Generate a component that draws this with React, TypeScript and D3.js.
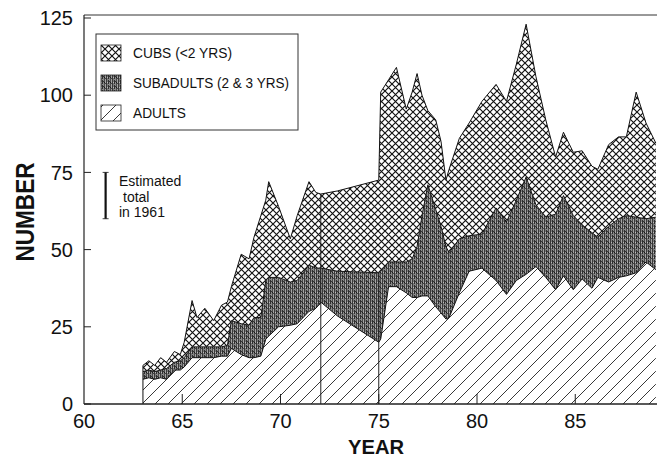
import React from "react";
import * as d3 from "d3";

// ---- data ----
const years = [
  63.0, 63.3, 63.6, 63.9, 64.2, 64.6, 64.9, 65.1, 65.5, 65.75, 66.15, 66.6, 67.0, 67.3, 67.5,
  68.0, 68.4, 68.65, 69.0, 69.25, 69.4, 69.9, 70.5, 70.85, 71.45, 71.8, 72.05, 72.9, 75.0, 75.1,
  75.5, 75.9, 76.4, 76.7, 76.95, 77.2, 77.5, 77.9, 78.17, 78.42, 78.58, 79.1, 79.6, 80.25, 80.97,
  81.5, 82.0, 82.5, 83.0, 83.5, 84.0, 84.4, 84.9, 85.35, 85.85, 86.15, 86.7, 87.2, 87.6, 88.1,
  88.6, 89.1,
];
const adults = [
  8, 8.5, 8, 8.5, 8, 11, 11, 12, 15, 15, 15, 15, 15.5, 15.5, 18,
  16, 15, 15, 15.5, 21, 22, 25, 25.5, 26, 30, 31, 33, 28.5, 20, 21,
  38, 38, 36, 34.5, 34.5, 35, 35, 31.5, 29.5, 27.5, 28, 36, 43, 44, 40,
  35.5, 40, 42, 44.5, 41, 37, 41.5, 37, 40.5, 37.5, 41, 39.5, 41, 41.5, 42.5,
  46, 43.5,
];
const subadults = [
  2.5, 2.5, 2.5, 2.5, 3.5, 2.5, 3, 3, 3.5, 3.5, 3.5, 3.5, 3, 3.5, 9,
  10, 10.5, 13, 12.5, 19, 19, 16, 14, 14, 15, 13, 11, 14.5, 22.5, 22,
  8, 8, 10, 12.5, 16.5, 26, 36, 31.5, 28, 23.5, 21, 17.5, 11.5, 11, 23.5,
  23.5, 26, 31.5, 20, 19.5, 24.5, 26, 24, 17.5, 18, 13, 18, 19, 19.5, 18,
  14, 17,
];
const cubs = [
  2, 3, 2, 4, 2, 3.5, 2, 5, 15, 9.5, 12.5, 8.5, 13.5, 14, 11,
  22.5, 21.5, 26, 33, 26, 31, 23, 14, 21, 27, 24.5, 24, 26, 30, 58,
  59, 63, 49.5, 54, 56, 39, 24, 29, 27.5, 21.5, 27, 32.5, 36.5, 43, 40,
  39, 44, 49.5, 41.5, 31.5, 18.5, 20.5, 20.5, 24, 21.5, 22, 26.5, 26.5, 25.5, 40.5,
  31, 24,
];
const xTicks = [60, 65, 70, 75, 80, 85];
const yTicks = [0, 25, 50, 75, 100, 125];
const markerYears = [72.05, 75.0];
const estimateYear = 61.1;
const estimateRange = [60, 75];
const legendLabels = ["CUBS (<2 YRS)", "SUBADULTS (2 & 3 YRS)", "ADULTS"];
const annotationLines = ["Estimated", "total", "in 1961"];

const FONT = "'Liberation Sans', Arial, Helvetica, sans-serif";

// grey levels for the stipple screen of the subadult band (texture only)
const stippleCols = ["#2e2e2e", "#8a8a8a", "#4a4a4a", "#a4a4a4", "#383838", "#7a7a7a"];

export default function App() {
  const W = 657;
  const H = 458;
  const x = d3.scaleLinear().domain([60, 90]).range([84, 84 + 30 * 19.65]);
  const y = d3.scaleLinear().domain([0, 125]).range([404, 18]);

  const table = years.map((yr, i) => ({ year: yr, adults: adults[i], subadults: subadults[i], cubs: cubs[i] }));
  const stack = d3.stack<any>().keys(["adults", "subadults", "cubs"]);
  const series = stack(table);

  const area = d3
    .area<any>()
    .x((d) => x(d.data.year))
    .y0((d) => y(d[0]))
    .y1((d) => y(d[1]));
  const line = d3
    .line<any>()
    .x((d) => x(d.data.year))
    .y((d) => y(d[1]));

  const fills = ["url(#adultHatch)", "url(#subStipple)", "url(#cubCross)"];
  const left = x(60);
  const x0 = x(years[0]);

  const legendFills = ["url(#cubCross)", "url(#subStipple)", "url(#adultHatch)"];
  const legendTextLen = [99, 156, 53];

  return (
    <svg
      width={W}
      height={H}
      style={{ position: "absolute", left: 0, top: 0, background: "#fff" }}
      fontFamily={FONT}
    >
      <defs>
        <pattern id="cubCross" patternUnits="userSpaceOnUse" width={7} height={7}>
          <rect width={7} height={7} fill="#fff" />
          <path d="M-1,-1 L8,8 M8,-1 L-1,8" stroke="#111" strokeWidth={1.15} />
        </pattern>
        <pattern id="adultHatch" patternUnits="userSpaceOnUse" width={13} height={13}>
          <rect width={13} height={13} fill="#fff" />
          <path d="M0,13 L13,0 M-2,2 L2,-2 M11,15 L15,11" stroke="#222" strokeWidth={0.9} />
        </pattern>
        <pattern id="subStipple" patternUnits="userSpaceOnUse" width={6} height={5}>
          <rect width={6} height={5} fill="#666" />
          {stippleCols.map((c, i) => (
            <rect key={i} x={i} y={0} width={1} height={5} fill={c} />
          ))}
          <rect x={1} y={1} width={1} height={1} fill="#333" />
          <rect x={3} y={3} width={1} height={1} fill="#444" />
          <rect x={5} y={2} width={1} height={1} fill="#bbb" />
          <rect x={0} y={4} width={1} height={1} fill="#888" />
          <rect x={2} y={2} width={1} height={1} fill="#1a1a1a" />
        </pattern>
      </defs>

      {/* stacked areas */}
      {series.map((s, i) => (
        <path key={s.key} d={area(s) || ""} fill={fills[i]} stroke="none" />
      ))}
      {series.map((s) => (
        <path key={"l" + s.key} d={line(s) || ""} fill="none" stroke="#111" strokeWidth={1} />
      ))}
      {/* left edge of the data */}
      <line x1={x0} x2={x0} y1={y(0)} y2={y(series[2][0][1])} stroke="#111" strokeWidth={1} />

      {/* vertical marker lines */}
      {markerYears.map((my, k) => {
        const idx = years.indexOf(my);
        const top = k === 0 ? series[2][idx][1] : series[1][idx][1];
        return (
          <line key={"m" + k} x1={x(my)} x2={x(my)} y1={y(0)} y2={y(top)} stroke="#222" strokeWidth={1} />
        );
      })}

      {/* frame / axes */}
      <line x1={left} x2={W} y1={15} y2={15} stroke="#333" strokeWidth={1} />
      <line x1={left} x2={left} y1={15} y2={y(0)} stroke="#222" strokeWidth={1.2} />
      <line x1={left} x2={W} y1={y(0)} y2={y(0)} stroke="#222" strokeWidth={1.4} />

      {yTicks.map((t) => (
        <g key={"yt" + t}>
          <line x1={left} x2={left + 7} y1={y(t)} y2={y(t)} stroke="#222" strokeWidth={1} />
          <text x={73} y={y(t)} dy="0.36em" textAnchor="end" fontSize={20} fill="#111">
            {t}
          </text>
        </g>
      ))}
      {xTicks.map((t) => (
        <g key={"xt" + t}>
          {t > 60 && <line x1={x(t)} x2={x(t)} y1={y(0)} y2={y(0) - 10} stroke="#222" strokeWidth={1} />}
          <text x={x(t)} y={427.5} textAnchor="middle" fontSize={20} fill="#111">
            {t}
          </text>
        </g>
      ))}

      {/* axis titles */}
      <text x={376} y={453.5} textAnchor="middle" fontSize={21} fontWeight="bold" textLength={56} lengthAdjust="spacingAndGlyphs" fill="#111">
        YEAR
      </text>
      <text
        transform={`translate(34,212) rotate(-90)`}
        textAnchor="middle"
        fontSize={25}
        fontWeight="bold"
        textLength={99}
        lengthAdjust="spacingAndGlyphs"
        fill="#111"
      >
        NUMBER
      </text>

      {/* legend */}
      <rect x={96} y={34} width={202} height={96} fill="#fff" stroke="#333" strokeWidth={1} />
      {legendLabels.map((lab, i) => (
        <g key={"lg" + i}>
          <rect x={101} y={45 + i * 30} width={20} height={16} fill={legendFills[i]} stroke="#222" strokeWidth={0.8} />
          <text x={133} y={58 + i * 30} fontSize={14.5} fill="#111" textLength={legendTextLen[i]} lengthAdjust="spacingAndGlyphs">
            {lab}
          </text>
        </g>
      ))}

      {/* estimate annotation */}
      <line x1={x(estimateYear)} x2={x(estimateYear)} y1={y(estimateRange[1])} y2={y(estimateRange[0])} stroke="#111" strokeWidth={2.2} />
      <line x1={x(estimateYear) - 3} x2={x(estimateYear) + 3} y1={y(estimateRange[1])} y2={y(estimateRange[1])} stroke="#111" strokeWidth={0.8} />
      <line x1={x(estimateYear) - 3} x2={x(estimateYear) + 3} y1={y(estimateRange[0])} y2={y(estimateRange[0])} stroke="#111" strokeWidth={0.8} />
      {annotationLines.map((t, i) => (
        <text key={"an" + i} x={i === 1 ? 123 : 119} y={186 + i * 15.5} fontSize={14} fill="#111">
          {t}
        </text>
      ))}
    </svg>
  );
}
